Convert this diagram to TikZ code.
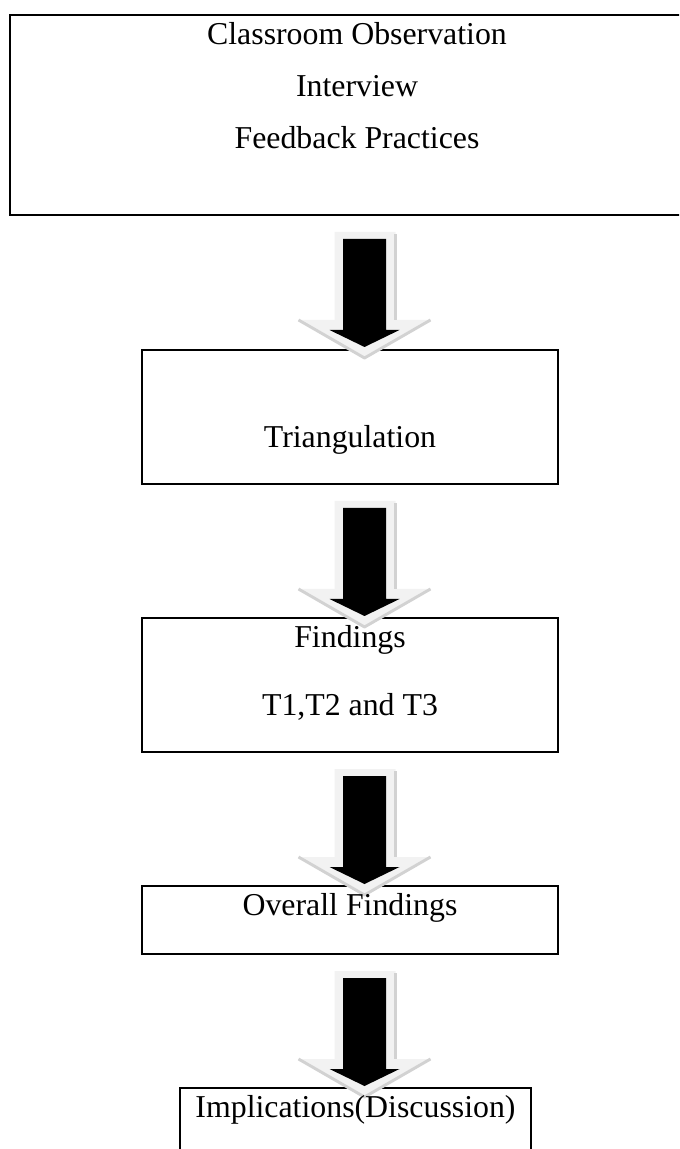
\documentclass[tikz,border=0pt]{standalone}
\usepackage{fontspec}
\setmainfont{Liberation Serif}
\usepackage{tikz}

\def\u{0.377pt}
\newcommand{\fatarrow}[1]{%
  \begin{scope}[shift={(#1)}]
    \fill[gray!10] (-30,16) -- (31,16) -- (31,104) -- (66,104) -- (0,142) -- (-66,104) -- (-30,104) -- cycle;
    \draw[gray!35, line width=1.1pt] (31,18) -- (31,104);
    \draw[gray!35, line width=1.1pt, line join=round] (-66,104) -- (0,142) -- (66,104);
    \fill (-21.5,23) -- (21.5,23) -- (21.5,114) -- (35,114) -- (0,131) -- (-35,114) -- (-21.5,114) -- cycle;
  \end{scope}}

\begin{document}
\begin{tikzpicture}[x=\u, y=-\u,
  box/.style={draw, line width=0.75pt, inner sep=0pt},
  txt/.style={anchor=base, font=\fontsize{12pt}{14pt}\selectfont}]
\path[use as bounding box, clip] (0,0) rectangle (679,1149);
\coordinate (ax) at (364.5,0);
% boxes
\node [box, minimum width=694*\u, minimum height=200*\u] (obs) at (357,115) {};
\node [box, minimum width=416*\u, minimum height=134*\u] (tri) at (350,417) {};
\node [box, minimum width=416*\u, minimum height=134*\u] (find) at (350,685) {};
\node [box, minimum width=416*\u, minimum height=68*\u] (overall) at (350,920) {};
\node [box, minimum width=351*\u, minimum height=82*\u] (impl) at (355.5,1129) {};
% arrows
\fatarrow{ax |- obs.south}
\fatarrow{ax |- tri.south}
\fatarrow{ax |- find.south}
\fatarrow{ax |- overall.south}
% texts
\node [txt] (o1) at (357,45) {Classroom Observation};
\node [txt] (o2) at (357,97) {Interview};
\node [txt] (o3) at (357,149) {Feedback Practices};
\node [txt] (t1) at (350,447) {Triangulation};
\node [txt] (f1) at (350,647) {Findings};
\node [txt] (f2) at (350,715) {T1,T2 and T3};
\node [txt] (v1) at (350,915) {Overall Findings};
\node [txt] (i1) at (355.5,1117) {Implications(Discussion)};
\end{tikzpicture}
\end{document}
